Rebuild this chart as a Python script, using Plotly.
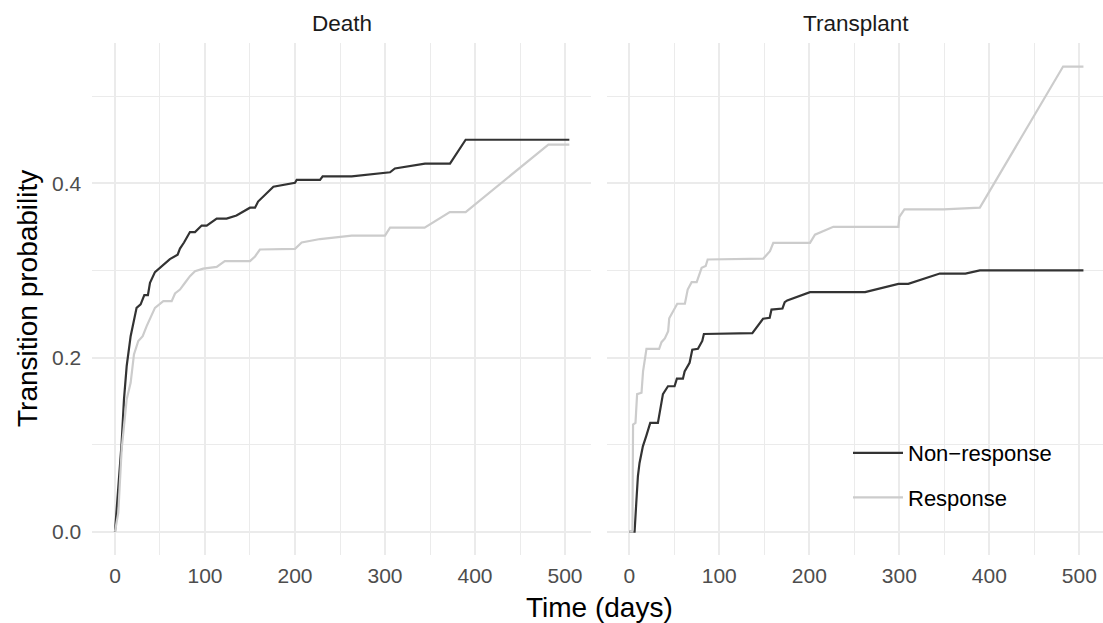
import plotly.graph_objects as go

# ---- data ----
panels = ["Death", "Transplant"]
groups = ["Non\u2212response", "Response"]

death_nonresp_days = [0, 1.9, 4.4, 7.4, 10, 13, 17.4, 20.4, 24, 28.5, 32.6, 36.6, 38.9, 44.4, 53.7, 61, 69.6,
                      72.2, 76.7, 83.3, 88.9, 96.3, 101.9, 113, 124, 135, 150, 155.6, 159, 166.7, 176, 200,
                      201.9, 227.8, 230.7, 263, 305.6, 311, 344.4, 372.2, 389.6, 504.8]
death_nonresp_prob = [0, 0.024, 0.056, 0.102, 0.152, 0.19, 0.2245, 0.238, 0.257, 0.261, 0.2716, 0.2716, 0.2858,
                      0.298, 0.307, 0.313, 0.318, 0.325, 0.332, 0.344, 0.344, 0.3515, 0.3515, 0.3595, 0.3595,
                      0.363, 0.372, 0.372, 0.379, 0.387, 0.396, 0.4005, 0.404, 0.404, 0.408, 0.408, 0.4126,
                      0.417, 0.4226, 0.4226, 0.450, 0.450]

death_resp_days = [0, 3.7, 7.4, 13, 17.4, 21.1, 25.9, 30.8, 35.2, 40.7, 44.4, 53.7, 63, 66.7, 72.2, 77.8, 83.3,
                   88.9, 98, 113, 122, 150, 155.6, 161, 200, 207.4, 227.8, 263, 300, 305.6, 344, 372, 389.6,
                   481.5, 504.8]
death_resp_prob = [0, 0.022, 0.0946, 0.152, 0.171, 0.2035, 0.219, 0.2245, 0.236, 0.2494, 0.257, 0.2647, 0.2647,
                   0.2735, 0.278, 0.2858, 0.2934, 0.299, 0.302, 0.304, 0.3106, 0.3106, 0.316, 0.324, 0.3248,
                   0.332, 0.336, 0.340, 0.340, 0.349, 0.349, 0.367, 0.367, 0.4444, 0.4444]

trans_nonresp_days = [0, 5.9, 7.8, 9.6, 11.4, 15.1, 18.9, 23.3, 31.8, 33.7, 37.4, 43, 50.3, 52.9, 59.6, 61.5, 67,
                      70, 76.3, 81.1, 82.9, 136.7, 148.6, 156, 158, 170.2, 172.7, 175.5, 200.8, 262, 299, 310,
                      345, 373.5, 389.5, 504.6]
trans_nonresp_prob = [0, 0, 0.0335, 0.064, 0.079, 0.098, 0.11, 0.125, 0.125, 0.135, 0.158, 0.167, 0.167, 0.1757,
                      0.1757, 0.184, 0.194, 0.209, 0.210, 0.219, 0.227, 0.228, 0.2445, 0.2456, 0.255, 0.2563,
                      0.2635, 0.2655, 0.275, 0.275, 0.2846, 0.2846, 0.2964, 0.2964, 0.300, 0.300]

trans_resp_days = [0, 3.5, 4.2, 6.9, 8.7, 13.6, 15.3, 19.1, 33.2, 35.8, 39.5, 43.2, 44.4, 53.3, 61.8, 64.9, 69.3,
                   74.9, 80.4, 84.9, 87.1, 148.9, 156.3, 160, 200.8, 206.3, 226.7, 299, 300.1, 305.7, 349,
                   389.5, 482, 504.6]
trans_resp_prob = [0, 0, 0.123, 0.125, 0.158, 0.1596, 0.184, 0.210, 0.210, 0.2176, 0.222, 0.2303, 0.245, 0.2617,
                   0.2617, 0.278, 0.2865, 0.2865, 0.303, 0.305, 0.3125, 0.3136, 0.322, 0.3316, 0.3316, 0.341,
                   0.350, 0.350, 0.3615, 0.370, 0.370, 0.372, 0.534, 0.534]

x_ticks = [0, 100, 200, 300, 400, 500]
x_minor = [50, 150, 250, 350, 450]
y_ticks = [0.0, 0.2, 0.4]
y_tick_labels = ["0.0", "0.2", "0.4"]
y_minor = [0.1, 0.3, 0.5]

colors = {groups[0]: "#333333", groups[1]: "#CCCCCC"}
FONT = "Liberation Sans, Arial, Helvetica, sans-serif"

W, H = 1103, 623
fig = go.Figure()

series = [
    ("x", "y", groups[0], death_nonresp_days, death_nonresp_prob, True),
    ("x", "y", groups[1], death_resp_days, death_resp_prob, True),
    ("x2", "y2", groups[0], trans_nonresp_days, trans_nonresp_prob, False),
    ("x2", "y2", groups[1], trans_resp_days, trans_resp_prob, False),
]
for xa, ya, g, xs, ys, show in series:
    fig.add_trace(go.Scatter(
        x=xs, y=ys, mode="lines", name=g, xaxis=xa, yaxis=ya,
        line=dict(color=colors[g], width=2.2),
        legendgroup=g, showlegend=show,
    ))

grid_major = "#EBEBEB"
common_x = dict(
    tickmode="array", tickvals=x_ticks, ticktext=[str(v) for v in x_ticks],
    showgrid=True, gridcolor=grid_major, gridwidth=2,
    minor=dict(tickmode="array", tickvals=x_minor, showgrid=True, gridcolor=grid_major, gridwidth=1.1),
    zeroline=False, showline=False, ticks="", automargin=False,
    tickfont=dict(family=FONT, size=21, color="#4D4D4D"),
    ticklabelstandoff=6,
)
common_y = dict(
    tickmode="array", tickvals=y_ticks, ticktext=y_tick_labels,
    showgrid=True, gridcolor=grid_major, gridwidth=2,
    minor=dict(tickmode="array", tickvals=y_minor, showgrid=True, gridcolor=grid_major, gridwidth=1.1),
    zeroline=False, showline=False, ticks="", automargin=False,
    range=[-0.0267, 0.5607],
    domain=[1 - 555 / H, 1 - 43.3 / H],
    tickfont=dict(family=FONT, size=21, color="#4D4D4D"),
)

fig.update_layout(
    width=W, height=H,
    margin=dict(l=0, r=0, t=0, b=0, autoexpand=False),
    paper_bgcolor="white", plot_bgcolor="white",
    font=dict(family=FONT),
    xaxis=dict(common_x, domain=[92.3 / W, 591.3 / W], range=[-25.2, 529.2], anchor="y"),
    xaxis2=dict(common_x, domain=[606.6 / W, 1.0], range=[-25.2, (W - 629.3) / 0.9], anchor="y2"),
    yaxis=dict(common_y, anchor="x", ticklabelstandoff=10),
    yaxis2=dict(common_y, anchor="x2", showticklabels=False),
    legend=dict(
        x=848 / W, y=1 - 432 / H, xanchor="left", yanchor="top",
        bgcolor="rgba(0,0,0,0)", borderwidth=0,
        font=dict(family=FONT, size=22, color="#000000"),
        itemwidth=50, tracegroupgap=13,
    ),
    showlegend=True,
)

annotations = [
    dict(text=panels[0], x=(92.3 + 591.3) / 2 / W, y=1 - 23.5 / H, xref="paper", yref="paper",
         showarrow=False, font=dict(family=FONT, size=22.5, color="#1A1A1A"), xanchor="center", yanchor="middle"),
    dict(text=panels[1], x=(606.6 + 1105.6) / 2 / W, y=1 - 23.5 / H, xref="paper", yref="paper",
         showarrow=False, font=dict(family=FONT, size=22.5, color="#1A1A1A"), xanchor="center", yanchor="middle"),
    dict(text="Time (days)", x=599 / W, y=1 - 607 / H, xref="paper", yref="paper",
         showarrow=False, font=dict(family=FONT, size=28, color="#000000"), xanchor="center", yanchor="middle"),
    dict(text="Transition probability", x=27 / W, y=1 - 299 / H, xref="paper", yref="paper", textangle=-90,
         showarrow=False, font=dict(family=FONT, size=28, color="#000000"), xanchor="center", yanchor="middle"),
]
fig.update_layout(annotations=annotations)

fig.write_html(
    "out.html",
    config={"displayModeBar": False},
    post_script="document.body.style.margin='0';document.body.style.overflow='hidden';",
)
